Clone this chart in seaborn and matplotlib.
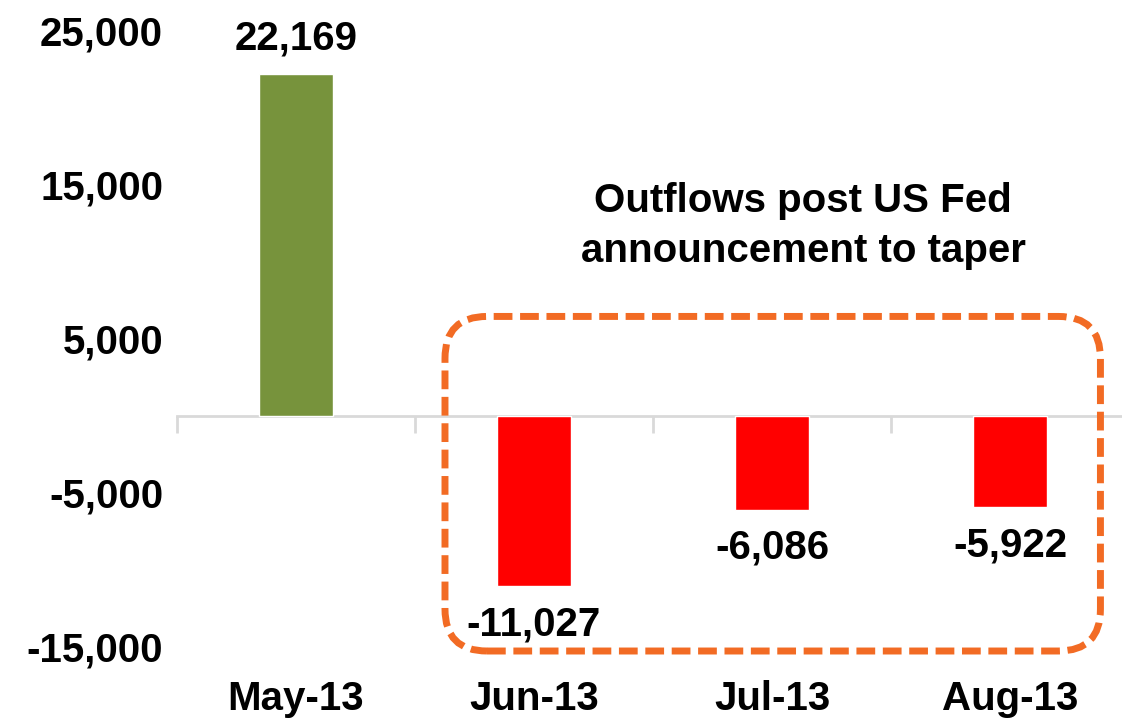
import matplotlib
matplotlib.use("Agg")
import matplotlib.pyplot as plt
import matplotlib.transforms as mtransforms
from matplotlib.patches import FancyBboxPatch
from matplotlib import font_manager
import seaborn as sns

# Monthly net flows
months = ["May-13", "Jun-13", "Jul-13", "Aug-13"]
flows = [22169, -11027, -6086, -5922]
bar_colors = ["#77933C", "#FF0000", "#FF0000", "#FF0000"]
y_ticks = [25000, 15000, 5000, -5000, -15000]
note_text = "Outflows post US Fed\nannouncement to taper"

sns.set_theme(style="white")
names = {f.name for f in font_manager.fontManager.ttflist}
family = ["Liberation Sans Narrow", "DejaVu Sans"] if "Liberation Sans Narrow" in names else ["Liberation Sans", "DejaVu Sans"]
plt.rcParams["font.family"] = family
plt.rcParams["font.weight"] = "bold"
plt.rcParams["text.color"] = "black"
plt.rcParams["xtick.color"] = "black"
plt.rcParams["ytick.color"] = "black"

FS = 29
fig = plt.figure(figsize=(11.22, 7.22), dpi=100)
ax = fig.add_axes([177 / 1122, 1 - 647 / 722, 952 / 1122, 617 / 722])

sns.barplot(x=months, y=flows, hue=months, palette=bar_colors, legend=False,
            width=0.315, saturation=1, ax=ax)

ax.set_xlim(-0.5, 3.5)
ax.set_ylim(-15000, 25000)
ax.set_yticks(y_ticks)
ax.set_yticklabels([f"{v:,}" for v in y_ticks], fontsize=FS, fontweight="bold", color="black")
ax.tick_params(axis="y", length=0, pad=10, labelcolor="black")
ax.set_xticks(range(len(months)))
ax.set_xticklabels(months, fontsize=FS, fontweight="bold", color="black")
ax.tick_params(axis="x", length=0, pad=24, labelcolor="black")
ax.set_xlabel("")
ax.set_ylabel("")
for s in ax.spines.values():
    s.set_visible(False)

# Category axis line through zero with boundary ticks
zero_frac = (0 - (-15000)) / 40000
sec = ax.secondary_xaxis(zero_frac)
sec.set_xticks([-0.5, 0.5, 1.5, 2.5, 3.5])
sec.tick_params(axis="x", length=12, width=2, color="#D9D9D9", labelbottom=False, direction="out")
sec.spines["bottom"].set_color("#D9D9D9")
sec.spines["bottom"].set_linewidth(2)
sec.set_zorder(0.5)
for c in ax.containers:
    for p in c:
        p.set_zorder(3)

# Value labels
for i, v in enumerate(flows):
    if v >= 0:
        ax.annotate(f"{v:,}", (i, v), xytext=(0, 12), textcoords="offset points",
                    ha="center", va="bottom", fontsize=FS, fontweight="bold", color="black")
    else:
        ax.annotate(f"{v:,}", (i, v), xytext=(0, -14), textcoords="offset points",
                    ha="center", va="top", fontsize=FS, fontweight="bold", color="black")

# Callout text
ax.text(2.13, 12300, note_text, ha="center", va="center", fontsize=FS,
        fontweight="bold", linespacing=1.4, color="black")

# Dashed rounded outline around the outflow months
fig.canvas.draw()
(x0, y0), (x1, y1) = ax.transData.transform([(0.626, -15260), (3.38, 6430)])
box = FancyBboxPatch((x0, y0), x1 - x0, y1 - y0,
                     boxstyle="round,pad=0,rounding_size=42",
                     transform=mtransforms.IdentityTransform(),
                     fill=False, edgecolor="#F26B24", linewidth=5,
                     linestyle=(0, (2.7, 1.1)), clip_on=False, zorder=5)
fig.add_artist(box)

fig.savefig("out.png", dpi=100)
